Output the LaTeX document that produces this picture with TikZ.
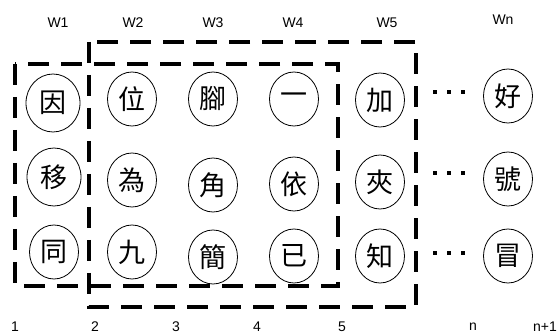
\documentclass[tikz,border=0pt]{standalone}
\usepackage{fontspec}
\setmainfont{Liberation Sans}
\newfontfamily\cjk{Noto Sans CJK TC}
\usetikzlibrary{shapes.geometric}
\tikzset{
 ch/.style={draw, ellipse, line width=0.8pt, minimum width=49pt, minimum height=54pt, inner sep=0pt, font=\cjk\fontsize{27}{27}\selectfont},
 bigch/.style={ch, minimum width=54pt, minimum height=58pt},
 lab/.style={font=\fontsize{14}{14}\selectfont, inner sep=0pt},
 box/.style={line width=4pt, dash pattern=on 21pt off 12pt},
 dotnode/.style={fill=black, minimum size=3.5pt, inner sep=0pt}
}
\begin{document}
\begin{tikzpicture}[x=1pt,y=-1pt]
\useasboundingbox (0,0) rectangle (559,336);
% boxes
\draw[box] (15,64) rectangle (338,286);
\draw[box] (89,42) rectangle (416,307);
% top labels
\node[lab] (w1) at (58,23) {W1};
\node[lab] (w2) at (133,23) {W2};
\node[lab] (w3) at (213,23) {W3};
\node[lab] (w4) at (293,23) {W4};
\node[lab] (w5) at (387,23) {W5};
\node[lab] (wn) at (503,20) {Wn};
% bottom labels
\node[lab] (b1) at (15,327) {1};
\node[lab] (b2) at (95,327) {2};
\node[lab] (b3) at (176,327) {3};
\node[lab] (b4) at (257,327) {4};
\node[lab] (b5) at (342,327) {5};
\node[lab] (bn) at (473,327) {n};
\node[lab] (bn1) at (545,327) {n+1};
% row 1
\node[bigch] (c11) at (53,103) {因};
\node[ch] (c12) at (132,99) {位};
\node[ch] (c13) at (213,99) {腳};
\node[ch] (c14) at (294,99) {一};
\node[ch] (c15) at (380,100) {加};
\node[ch] (c16) at (508,96) {好};
% row 2
\node[bigch] (c21) at (54,177) {移};
\node[ch] (c22) at (132,180) {為};
\node[ch] (c23) at (213,185) {角};
\node[ch] (c24) at (294,184) {依};
\node[ch] (c25) at (380,182) {夾};
\node[ch] (c26) at (508,179) {號};
% row 3
\node[ch] (c31) at (54,252) {同};
\node[ch] (c32) at (132,252) {九};
\node[ch] (c33) at (213,257) {簡};
\node[ch] (c34) at (294,256) {已};
\node[ch] (c35) at (380,256) {知};
\node[ch] (c36) at (508,256) {冒};
% dots
\foreach \r/\y in {1/92,2/173,3/253}{
  \node[dotnode] (d\r a) at (435,\y) {};
  \node[dotnode] (d\r b) at (449,\y) {};
  \node[dotnode] (d\r c) at (463,\y) {};
}
\end{tikzpicture}
\end{document}
